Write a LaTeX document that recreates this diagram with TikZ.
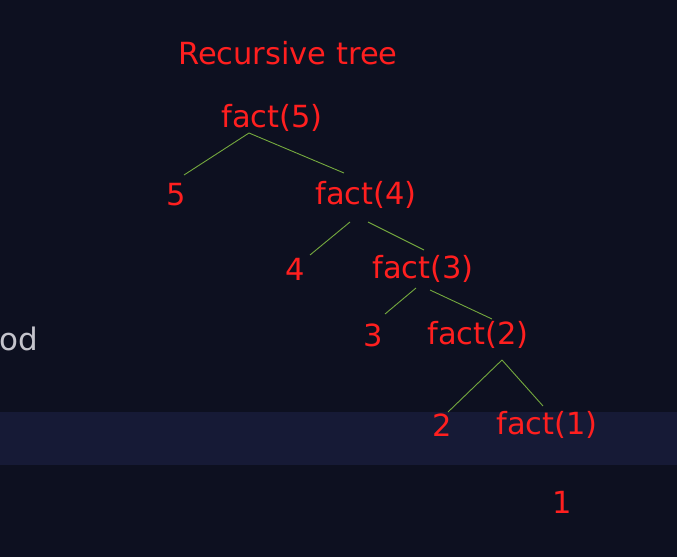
\documentclass[tikz,border=0pt]{standalone}
\usepackage{fontspec}
\setmainfont{DejaVu Sans}
\usetikzlibrary{calc}
\definecolor{bgnavy}{HTML}{0D1020}
\definecolor{bandnavy}{HTML}{161A36}
\definecolor{callred}{HTML}{FF1F1F}
\definecolor{branchgreen}{HTML}{74A83E}
\definecolor{ghostgray}{HTML}{C4C4CC}

\begin{document}
\begin{tikzpicture}[x=1pt,y=-1pt,
    call/.style={inner sep=0pt,text=callred,font=\fontsize{30.5}{32}\selectfont},
    branch/.style={draw=branchgreen,line width=0.9pt}]
    \fill[bgnavy] (0,0) rectangle (677,557);
    \fill[bandnavy] (0,412) rectangle (677,465);
    \useasboundingbox (0,0) rectangle (677,557);
    \node[inner sep=0pt,anchor=east,text=ghostgray,font=\fontsize{31}{33}\selectfont] (od) at (38,339) {od};
    \node[call,font=\fontsize{30.5}{32}\selectfont] (title) at (288,53) {Recursive tree};
    \node[call] (f5) at (272,118) {fact(5)};
    \node[call] (n5) at (176,195) {5};
    \node[call] (f4) at (366,195) {fact(4)};
    \node[call] (n4) at (295,269) {4};
    \node[call] (f3) at (423,269) {fact(3)};
    \node[call] (n3) at (373,335) {3};
    \node[call] (f2) at (478,335) {fact(2)};
    \node[call] (n2) at (442,425) {2};
    \node[call] (f1) at (547,425) {fact(1)};
    \node[call] (n1) at (562,502) {1};
    \draw[branch] ($(f5)+(-23,15)$) -- ($(n5)+(8,-20)$);
    \draw[branch] ($(f5)+(-23,15)$) -- ($(f4)+(-22,-22)$);
    \draw[branch] ($(f4)+(-16,27)$) -- ($(n4)+(15,-14)$);
    \draw[branch] ($(f4)+(2,27)$) -- ($(f3)+(1,-19)$);
    \draw[branch] ($(f3)+(-7,19)$) -- ($(n3)+(12,-21)$);
    \draw[branch] ($(f3)+(7,21)$) -- ($(f2)+(14,-16)$);
    \draw[branch] ($(f2)+(24,25)$) -- ($(n2)+(6,-13)$);
    \draw[branch] ($(f2)+(24,25)$) -- ($(f1)+(-4,-19)$);
\end{tikzpicture}
\end{document}
